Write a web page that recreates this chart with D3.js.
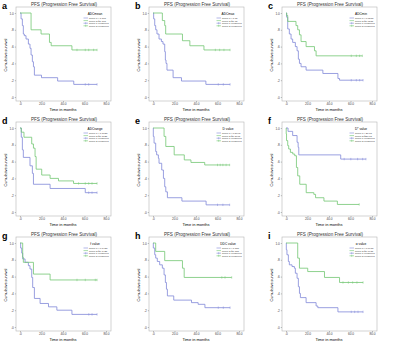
<!DOCTYPE html>
<html>
<head>
<meta charset="utf-8">
<script src="https://cdn.jsdelivr.net/npm/d3@7"></script>
<style>
  body { margin: 0; background: #fff; }
  text { font-family: "Liberation Sans", Arial, sans-serif; }
</style>
</head>
<body>
<script>
// Curvas de Kaplan-Meier: [tiempo, supervivencia] y tiempos censurados
const aG1 = [[0,1],[1,.93],[2.2,.85],[3.1,.75],[4,.73],[5.6,.69],[7.8,.63],[9.3,.58],[10.3,.50],[11.5,.42],[12.5,.36],[13.4,.26],[20,.23],[35,.19],[50,.15]];
const aG1Cens = [60.7, 63.9, 71.7];
const aG2 = [[0,1],[10.3,.80],[19.6,.75],[27.4,.65],[29,.61],[48.3,.56]];
const aG2Cens = [53, 60.7, 63.9, 68.5, 71.7];

const bG1 = [[0,1],[0.6,.93],[1.6,.85],[2.5,.80],[3.7,.75],[5.6,.69],[7.8,.66],[9.3,.63],[10.9,.54],[11.5,.44],[12.1,.40],[13,.32],[18.7,.23],[26.5,.19],[49.2,.15]];
const bG1Cens = [60.7, 65.4, 71.7];
const bG2 = [[0,1],[8.7,.91],[10.9,.85],[11.8,.75],[27.4,.67],[34.3,.61],[47.4,.56]];
const bG2Cens = [58, 62, 66, 71.7];

const cG1 = [[0,1],[0.6,.95],[1.6,.81],[3.1,.75],[4.7,.69],[6.2,.65],[8.7,.60],[10.3,.55],[11.5,.45],[12.5,.40],[14,.36],[18.7,.32],[34.3,.28],[48.3,.22],[49.8,.20]];
const cG1Cens = [60.7, 65.4, 68.5, 71.7];
const cG2 = [[0,1],[0.6,.97],[1.6,.90],[9.3,.85],[10.9,.80],[12.5,.74],[14,.66],[18.7,.60],[26.5,.55],[28,.49]];
const cG2Cens = [60.7, 65.4, 68.5, 71];

const dG1 = [[0,1],[1.2,.89],[2.2,.74],[3.1,.65],[9.3,.55],[11.5,.46],[12.5,.33],[28,.28],[60.7,.23]];
const dG1Cens = [63.9, 67, 71.7];
const dG2 = [[0,1],[1.2,.95],[3.7,.89],[10.9,.81],[12.5,.76],[14,.66],[15,.51],[20.2,.44],[28,.40],[35.8,.37],[49.8,.34]];
const dG2Cens = [54.5, 60.7, 63.9, 67, 71.7];

const eG1 = [[0,1],[0.3,.90],[1,.82],[2.5,.72],[3.4,.68],[5,.64],[5.6,.58],[8.1,.50],[9.7,.40],[10.9,.30],[11.9,.24],[13.4,.17],[26.9,.13],[49.4,.085]];
const eG1Cens = [60, 65, 71.3];
const eG2 = [[0,1],[10.3,.90],[11.9,.78],[19.7,.68],[29.1,.62],[35.3,.59],[48.1,.56]];
const eG2Cens = [60, 62.5, 65, 68, 71.3];

const fG1 = [[0,1],[1.9,.96],[6.2,.91],[10.3,.83],[11.3,.77],[11.9,.68],[50.9,.63]];
const fG1Cens = [54.1, 60.3, 66.6, 71.3, 74.4];
const fG2 = [[0,1],[0.2,.93],[0.5,.85],[1.6,.79],[2.5,.75],[4.1,.71],[6.3,.69],[8.1,.67],[9.7,.53],[10.9,.43],[12.8,.33],[18.8,.23],[25.9,.21],[27.5,.17],[35.3,.13],[47.8,.09]];
const fG2Cens = [68.1];

const gG1 = [[0,1],[0.6,.94],[1.6,.88],[2.5,.81],[4.7,.77],[7.8,.73],[9.3,.69],[10.9,.59],[11.8,.47],[13.4,.34],[18.7,.28],[26.5,.24],[34.3,.20],[48.3,.15]];
const gG1Cens = [64, 67, 71.7];
const gG2 = [[0,1],[2.5,.83],[3.1,.77],[12.5,.63],[28,.56]];
const gG2Cens = [53, 60.7, 70, 71.7];

const hG1 = [[0,1],[0.3,.94],[1.6,.86],[2.5,.82],[4,.78],[6.2,.74],[8.7,.70],[10.3,.62],[11.5,.53],[12.5,.45],[13.4,.37],[19.3,.32],[35.8,.29],[42,.27],[48.3,.23]];
const hG1Cens = [60.7, 65.4, 71.7];
const hG2 = [[0,1],[2.5,.90],[10.9,.79],[27.4,.70],[29,.59]];
const hG2Cens = [64, 67, 73.2];

const iG1 = [[0,1],[0.3,.92],[0.9,.86],[2.2,.78],[3.1,.74],[5.6,.72],[7.8,.70],[8.7,.64],[10.3,.58],[11.5,.48],[12.5,.40],[13.4,.35],[18.7,.29],[28,.25],[29.6,.23],[48.3,.18]];
const iG1Cens = [60.7, 63.9, 67, 71.7];
const iG2 = [[0,1],[10.9,.82],[12.5,.70],[20.2,.66],[35.8,.59],[49.8,.53]];
const iG2Cens = [53, 58, 62, 66, 71.7];

const letras = ["a","b","c","d","e","f","g","h","i"];
const titulosLeyenda = ["ADCmean","ADCmax","ADCmin","ADCrange","D value","D* value","f value","DDC value","α value"];
const cortes = ["1.105","1.75","0.6535","1.1625","0.8995","20.65","0.1425","1.185","0.6935"];
const xTicks = [0, 20, 40, 60, 80];
const yTicks = [0, 0.2, 0.4, 0.6, 0.8, 1.0];

const curvas = [
  [aG1, aG1Cens, aG2, aG2Cens], [bG1, bG1Cens, bG2, bG2Cens], [cG1, cG1Cens, cG2, cG2Cens],
  [dG1, dG1Cens, dG2, dG2Cens], [eG1, eG1Cens, eG2, eG2Cens], [fG1, fG1Cens, fG2, fG2Cens],
  [gG1, gG1Cens, gG2, gG2Cens], [hG1, hG1Cens, hG2, hG2Cens], [iG1, iG1Cens, iG2, iG2Cens]
];

const colores = ["#8088d8", "#72c772"];

const svg = d3.select("body").append("svg")
  .attr("width", 400)
  .attr("height", 349);

const cols = [0, 133, 266];
const filas = [0, 115, 230];

const x = d3.scaleLinear().domain([0, 80]).range([20, 106]);
const y = d3.scaleLinear().domain([0, 1]).range([97, 13]);

const linea = d3.line()
  .x(d => x(d[0]))
  .y(d => y(d[1]))
  .curve(d3.curveStepAfter);

// devuelve la supervivencia en el tiempo t
function survAt(pasos, t) {
  let s = 1;
  pasos.forEach(p => { if (p[0] <= t) s = p[1]; });
  return s;
}

curvas.forEach((c, i) => {
  const g = svg.append("g")
    .attr("transform", `translate(${cols[i % 3]},${filas[Math.floor(i / 3)]})`);

  g.append("text")
    .attr("x", 2).attr("y", 9)
    .attr("font-size", 9).attr("font-weight", "bold")
    .text(letras[i]);

  g.append("text")
    .attr("x", 64).attr("y", 5.5)
    .attr("text-anchor", "middle")
    .attr("font-size", 4.6)
    .attr("fill", "#333")
    .text("PFS  (Progression Free Survival)");

  // marco del area del grafico
  g.append("rect")
    .attr("x", 16).attr("y", 7)
    .attr("width", 95).attr("height", 94)
    .attr("fill", "#fff")
    .attr("stroke", "#b5b5b5")
    .attr("stroke-width", 0.6);

  const ejeX = g.append("g")
    .attr("transform", "translate(0,101)")
    .call(d3.axisBottom(x).tickValues(xTicks).tickSize(1.2).tickPadding(0.8)
      .tickFormat(d => d === 0 ? ".0" : d.toFixed(1)));
  const ejeY = g.append("g")
    .attr("transform", "translate(16,0)")
    .call(d3.axisLeft(y).tickValues(yTicks).tickSize(1.2).tickPadding(1)
      .tickFormat(d => d === 1 ? "1.0" : d.toFixed(1).replace(/^0/, "")));
  [ejeX, ejeY].forEach(e => {
    e.select(".domain").remove();
    e.selectAll("line").attr("stroke", "#666").attr("stroke-width", 0.4);
    e.selectAll("text").attr("font-size", 3.2).attr("fill", "#444");
  });

  g.append("text")
    .attr("x", 63).attr("y", 110.5)
    .attr("text-anchor", "middle")
    .attr("font-size", 4)
    .text("Time in months");

  g.append("text")
    .attr("transform", "translate(6.5,55) rotate(-90)")
    .attr("text-anchor", "middle")
    .attr("font-size", 3.8)
    .text("Cumulative survival");

  // dos grupos
  [0, 1].forEach(k => {
    const pasos = c[k * 2];
    const cens = c[k * 2 + 1];
    const fin = d3.max(cens);
    const pts = pasos.concat([[fin, pasos[pasos.length - 1][1]]]);
    g.append("path")
      .attr("d", linea(pts))
      .attr("fill", "none")
      .attr("stroke", colores[k])
      .attr("stroke-width", 0.8);
    g.selectAll(null)
      .data(cens)
      .join("line")
      .attr("x1", d => x(d)).attr("x2", d => x(d))
      .attr("y1", d => y(survAt(pasos, d)) - 1.2)
      .attr("y2", d => y(survAt(pasos, d)) + 1.2)
      .attr("stroke", colores[k])
      .attr("stroke-width", 0.5);
  });

  // leyenda
  const ley = g.append("g");
  ley.append("text")
    .attr("x", 95).attr("y", 14.5)
    .attr("text-anchor", "middle")
    .attr("font-size", 3.2)
    .text(titulosLeyenda[i]);
  const items = [
    { t: `group 1:<${cortes[i]}`, c: colores[0], cens: false },
    { t: `group 2:≥${cortes[i]}`, c: colores[1], cens: false },
    { t: "group 1-censored", c: colores[0], cens: true },
    { t: "group 2-censored", c: colores[1], cens: true }
  ];
  items.forEach((it, j) => {
    const yy = 18 + j * 2.6;
    ley.append("line")
      .attr("x1", 83.5).attr("x2", 88)
      .attr("y1", yy).attr("y2", yy)
      .attr("stroke", it.c).attr("stroke-width", 0.6);
    if (it.cens) {
      ley.append("line")
        .attr("x1", 85.7).attr("x2", 85.7)
        .attr("y1", yy - 1).attr("y2", yy + 1)
        .attr("stroke", it.c).attr("stroke-width", 0.5);
    }
    ley.append("text")
      .attr("x", 89).attr("y", yy + 0.9)
      .attr("font-size", 2.5)
      .attr("fill", "#444")
      .text(it.t);
  });
});
</script>
</body>
</html>
